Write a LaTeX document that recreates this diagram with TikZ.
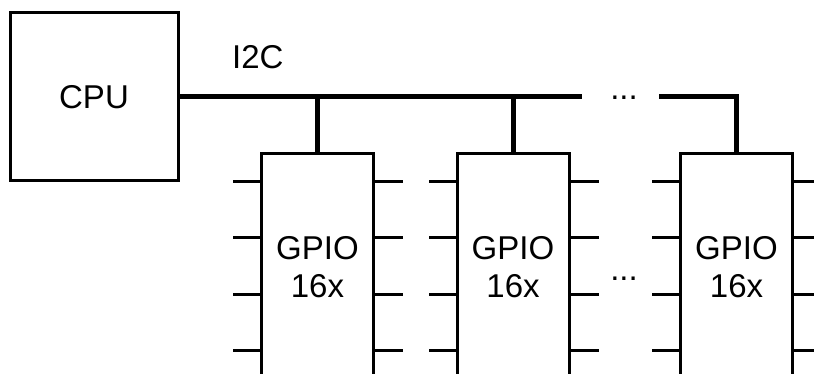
\documentclass[tikz,border=0pt]{standalone}
\usepackage{fontspec}
\setmainfont{Liberation Sans}
\begin{document}
\begin{tikzpicture}[x=1pt,y=-1pt,
  box/.style={draw, line width=3pt, rectangle, inner sep=0pt, align=center,
    font=\fontsize{33}{38}\selectfont},
  chip/.style={box, minimum width=112pt, minimum height=227pt},
  bus/.style={line width=5pt},
  pin/.style={line width=3pt},
  lbl/.style={inner sep=0pt, font=\fontsize{33}{38}\selectfont}]
\useasboundingbox (0,0) rectangle (814,374);
\clip (0,0) rectangle (814,374);
\node[box, minimum width=168pt, minimum height=168pt] (cpu) at (94,97) {CPU};
\node[chip] (g1) at (317.5,267.5) {GPIO\\16x};
\node[chip] (g2) at (513,267.5) {GPIO\\16x};
\node[chip] (g3) at (736.5,267.5) {GPIO\\16x};
\node[lbl, anchor=base west] (i2c) at (232,69) {I2C};
\node[lbl, anchor=base] (dots1) at (624,100) {...};
\node[lbl, anchor=base] (dots2) at (624,280) {...};
\coordinate (busA) at (582,97);
\coordinate (busB) at (659,97);
\coordinate (busC) at (736.5,97);
\draw[bus] (cpu.east) -- (busA);
\draw[bus] (g1.north) -- (g1.north |- busA);
\draw[bus] (g2.north) -- (g2.north |- busA);
\draw[bus] (busB) -- (busC) -- (g3.north);
\foreach \g in {g1,g2,g3}{
  \foreach \y in {182,238,294,350}{
    \draw[pin] (\g.west |- 0,\y) -- ++(-27,0);
    \draw[pin] (\g.east |- 0,\y) -- ++(28,0);
  }
}
\end{tikzpicture}
\end{document}
